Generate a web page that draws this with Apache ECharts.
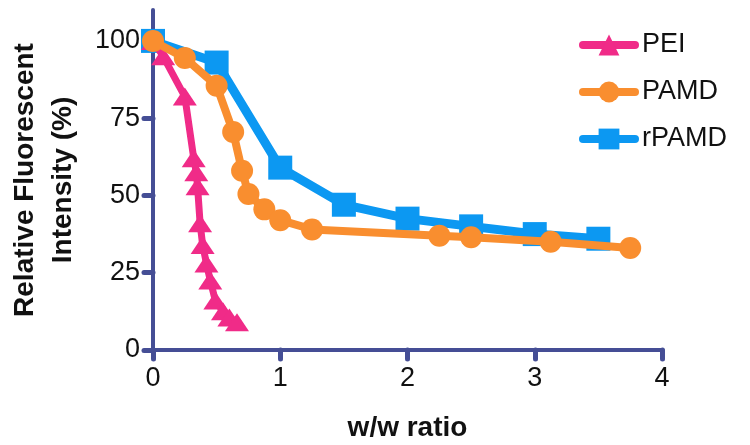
<!DOCTYPE html>
<html>
<head>
<meta charset="utf-8">
<script src="https://cdn.jsdelivr.net/npm/echarts@6/dist/echarts.min.js"></script>
<style>
html,body{margin:0;padding:0;background:#fff;}
#chart{width:750px;height:445px;}
</style>
</head>
<body>
<div id="chart"></div>
<script>
// Data
const peiX = [0, 0.08, 0.25, 0.32, 0.34, 0.35, 0.37, 0.39, 0.42, 0.45, 0.49, 0.55, 0.60, 0.66];
const peiY = [100, 95, 82, 62, 57.5, 53, 41, 34, 28, 22.5, 16, 12.5, 10.5, 9];
const pamdX = [0, 0.25, 0.5, 0.63, 0.7, 0.75, 0.875, 1, 1.25, 2.25, 2.5, 3.125, 3.75];
const pamdY = [100, 94.5, 85.5, 70.5, 58, 50.5, 45.5, 42, 39, 37, 36.5, 35, 33];
const rpamdX = [0, 0.5, 1, 1.5, 2, 2.5, 3, 3.5];
const rpamdY = [100, 93, 59, 47, 42.5, 40, 37.5, 36];
const seriesNames = ['PEI', 'PAMD', 'rPAMD'];

const pair = (xs, ys) => xs.map((x, i) => [x, ys[i]]);
const axisColor = '#454E95';
const font = 'Liberation Sans, Arial, sans-serif';
const colors = { PEI: '#F02B88', PAMD: '#F98E2F', rPAMD: '#0C98F2' };

const chart = echarts.init(document.getElementById('chart'));
chart.setOption({
  animation: false,
  grid: { left: 153, right: 88, top: 10, bottom: 95, outerBoundsMode: 'none', containLabel: false },
  legend: {
    orient: 'vertical',
    left: 574, top: 26,
    itemWidth: 52, itemHeight: 26, itemGap: 19,
    lineStyle: { width: 8, cap: 'round' },
    textStyle: { fontFamily: font, fontSize: 27, color: '#111', lineHeight: 28, padding: [0, 0, 0, 2] },
    data: seriesNames
  },
  xAxis: {
    type: 'value', min: 0, max: 4, interval: 1,
    name: 'w/w ratio', nameLocation: 'middle', nameGap: 64,
    nameTextStyle: { fontFamily: font, fontSize: 28, fontWeight: 'bold', color: '#111' },
    axisLine: { show: true, lineStyle: { color: axisColor, width: 4, cap: 'round' } },
    axisTick: { show: true, length: 9, lineStyle: { color: axisColor, width: 5, opacity: 1, type: 'solid', cap: 'round' } },
    axisLabel: { fontFamily: font, fontSize: 27, color: '#111', margin: 15 },
    splitLine: { show: false }
  },
  yAxis: {
    type: 'value', min: 0, max: 110, interval: 25,
    name: 'Relative Fluorescent\nIntensity (%)', nameLocation: 'middle', nameGap: 71,
    nameTextStyle: { fontFamily: font, fontSize: 28, fontWeight: 'bold', color: '#111', lineHeight: 38 },
    axisLine: { show: true, lineStyle: { color: axisColor, width: 4, cap: 'round' } },
    axisTick: { show: true, length: 9, lineStyle: { color: axisColor, width: 5, opacity: 1, type: 'solid', cap: 'round' } },
    axisLabel: { fontFamily: font, fontSize: 27, color: '#111', margin: 13, showMaxLabel: false },
    splitLine: { show: false }
  },
  series: [
    {
      name: 'PEI', type: 'line', z: 3,
      data: pair(peiX, peiY),
      symbol: 'triangle', symbolSize: [24, 18],
      lineStyle: { color: colors.PEI, width: 7 },
      itemStyle: { color: colors.PEI }
    },
    {
      name: 'PAMD', type: 'line', z: 4,
      data: pair(pamdX, pamdY),
      symbol: 'circle', symbolSize: 22,
      lineStyle: { color: colors.PAMD, width: 8 },
      itemStyle: { color: colors.PAMD }
    },
    {
      name: 'rPAMD', type: 'line', z: 2,
      data: pair(rpamdX, rpamdY),
      symbol: 'rect', symbolSize: 24,
      lineStyle: { color: colors.rPAMD, width: 9 },
      itemStyle: { color: colors.rPAMD }
    }
  ]
});
</script>
</body>
</html>
